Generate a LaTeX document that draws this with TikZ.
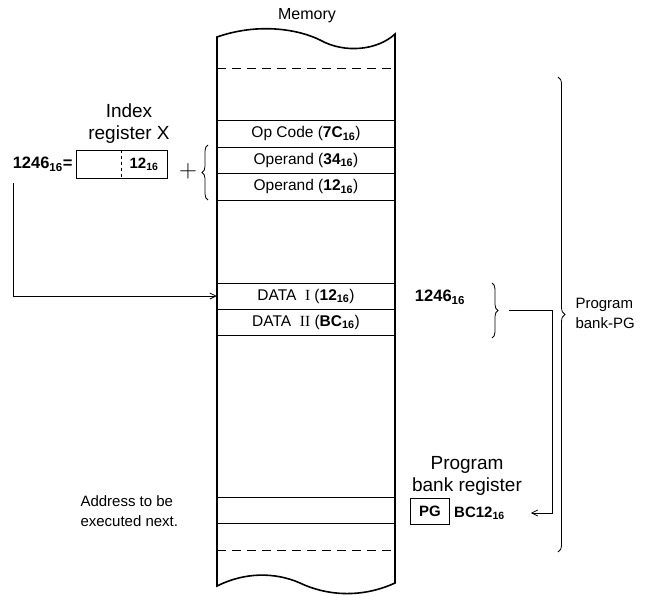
\documentclass[tikz,border=0pt]{standalone}
\usepackage{fontspec}
\setmainfont{Liberation Sans}
\newfontfamily\numfont{Liberation Serif}
\usetikzlibrary{arrows.meta, decorations.pathreplacing, positioning}

\newcommand{\hexval}[1]{\textbf{#1}\textsubscript{\textbf{16}}}

\tikzset{
	memrow/.style={draw, line width=0.5pt, minimum width=178pt, minimum height=26.5pt, inner sep=0pt, font=\fontsize{15.5}{18}\selectfont},
	captext/.style={font=\fontsize{19}{22}\selectfont, align=center},
	plaintext/.style={font=\fontsize{15}{20}\selectfont},
	boldnum/.style={font=\bfseries\fontsize{15}{18}\selectfont, inner sep=1pt},
	bracemark/.style={decorate, decoration={brace, amplitude=#1}, line width=0.8pt},
	bracemark/.default=6pt,
	link/.style={-{Straight Barb[length=6pt,width=6pt]}, line width=0.8pt},
}

\begin{document}
\begin{tikzpicture}[x=1pt, y=-1pt]
	\useasboundingbox (0,0) rectangle (645,595);

	% memory rows
	\node[plaintext, font=\fontsize{16}{20}\selectfont] (memtitle) at (307,16) {Memory};
	\node[memrow] (opcode)   at (306,133.5) {Op Code (\hexval{7C})};
	\node[memrow] (operandA) at (306,160)   {Operand (\hexval{34})};
	\node[memrow] (operandB) at (306,186.5) {Operand (\hexval{12})};
	\node[memrow] (dataone)  at (306,296)   {DATA\ \ {\numfont I}\ (\hexval{12})};
	\node[memrow] (datatwo)  at (306,322)   {DATA\ \ {\numfont II}\ (\hexval{BC})};
	\node[memrow] (nextrow)  at (306,510)   {};
	\draw[dashed, line width=0.6pt, dash pattern=on 9pt off 6pt] (217,68) -- (395,68);
	\draw[dashed, line width=0.6pt, dash pattern=on 9pt off 6pt] (217,550) -- (395,550);
	\draw[line width=1.6pt] (217,37) .. controls (260,22) and (300,30) .. (320,40)
		.. controls (345,54) and (378,50) .. (395,34) -- (395,583)
		.. controls (360,599) and (325,595) .. (300,583)
		.. controls (275,572) and (245,572) .. (217,586) -- cycle;

	% index register X
	\node[captext] (xtitle) at (129,124) {Index\\register X};
	\node[draw, line width=0.7pt, minimum width=91pt, minimum height=28pt] (xreg) at (121.5,164) {};
	\draw[dashed, line width=0.5pt] (xreg.north) -- (xreg.south);
	\node[boldnum] (xlow) at (144,164) {\hexval{12}};
	\node[boldnum, font=\bfseries\fontsize{16.5}{18}\selectfont, left=2pt of xreg] (xaddr) {\hexval{1246}=};
	\node[font=\fontsize{24}{24}\selectfont] (plus) at (188,171) {$+$};
	\draw[bracemark=6pt] (208,200) -- (208,145);
	\coordinate (xstart) at (13,183);
	\draw[link] (xstart) |- (dataone.west);

	% address of data
	\node[boldnum, font=\bfseries\fontsize{16.5}{18}\selectfont] (dataaddr) at (440,297) {\hexval{1246}};
	\draw[bracemark=6pt] (492,283) -- (492,338);
	\coordinate (bankstart) at (509,310.5);
	\coordinate (bankturn) at (552,310.5);

	% program bank register
	\node[captext] (pgtitle) at (467,476) {Program\\bank register};
	\node[draw, line width=1pt, minimum width=39pt, minimum height=26pt, font=\bfseries\fontsize{15}{18}\selectfont] (pgreg) at (430,511) {PG};
	\node[boldnum, anchor=west] (pgval) at (453,513) {\hexval{BC12}};
	\coordinate (pgarrow) at ([xshift=25pt]pgval.east);
	\draw[link] (bankstart) -- (bankturn) |- (pgarrow);

	% program bank
	\draw[bracemark=7pt] (558,77) -- (558,552);
	\node[plaintext] [anchor=west, align=left] (banktext) at (572,313) {Program\\bank-PG};

	\node[plaintext, anchor=west, align=left] (nexttext) at (77,511) {Address to be\\executed next.};
\end{tikzpicture}
\end{document}
